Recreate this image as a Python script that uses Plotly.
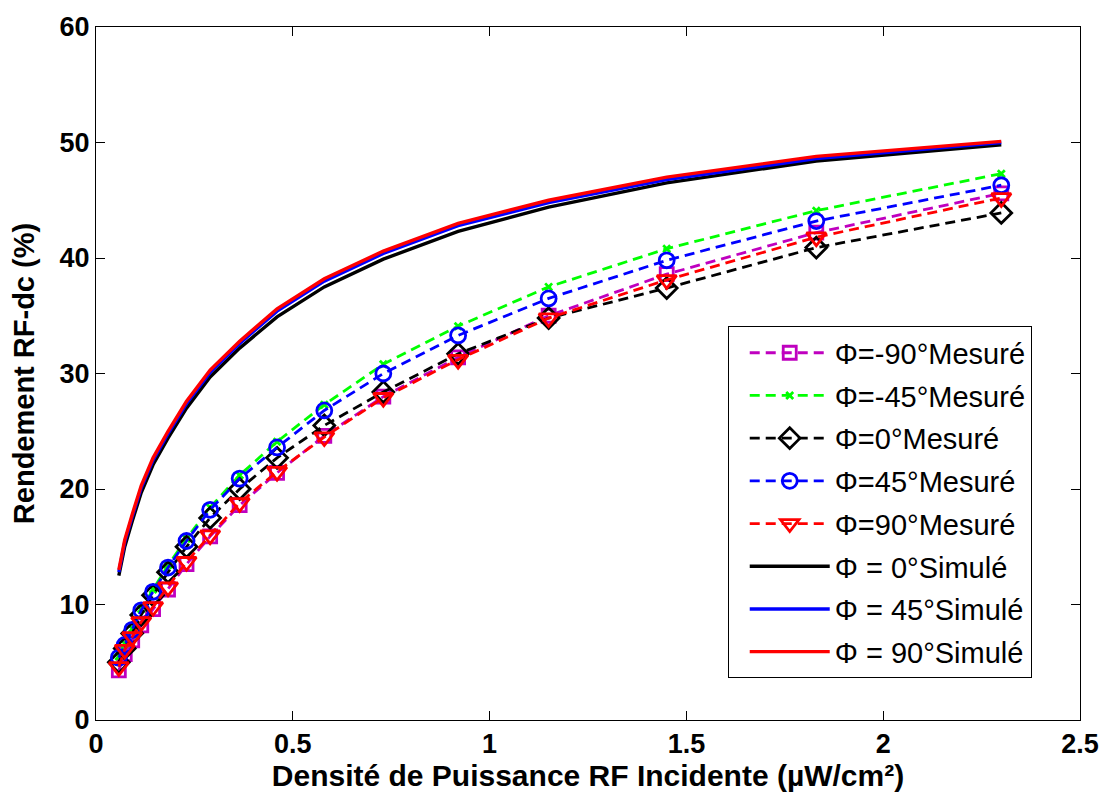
import plotly.graph_objects as go

x_vals = [0.058, 0.073, 0.092, 0.115, 0.145, 0.183, 0.23, 0.29, 0.365, 0.46,
          0.58, 0.73, 0.92, 1.15, 1.45, 1.83, 2.3]

mes_m90 = [4.3, 5.7, 6.9, 8.2, 9.6, 11.3, 13.5, 15.9, 18.6, 21.4, 24.6, 28.0, 31.4, 35.0, 38.6, 42.2, 45.6]
mes_m45 = [5.5, 6.6, 7.9, 9.6, 11.3, 13.4, 15.7, 18.4, 21.2, 24.1, 27.3, 30.8, 34.1, 37.5, 40.8, 44.1, 47.3]
mes_0 = [5.0, 6.2, 7.5, 9.1, 10.8, 12.8, 15.0, 17.5, 20.0, 22.7, 25.5, 28.4, 31.7, 34.8, 37.4, 40.9, 43.9]
mes_45 = [5.4, 6.5, 7.8, 9.5, 11.1, 13.2, 15.5, 18.2, 20.9, 23.6, 26.8, 30.0, 33.3, 36.5, 39.8, 43.2, 46.3]
mes_90 = [4.6, 6.1, 7.2, 8.5, 9.8, 11.5, 13.7, 16.0, 18.8, 21.5, 24.5, 27.9, 31.2, 34.8, 38.1, 41.8, 45.2]

sim_0 = [12.5, 15.0, 17.2, 19.7, 22.1, 24.4, 27.0, 29.7, 32.2, 34.9, 37.5, 39.9, 42.3, 44.4, 46.5, 48.4, 49.8]
sim_45 = [12.8, 15.4, 17.6, 20.1, 22.5, 24.8, 27.4, 30.1, 32.6, 35.4, 38.0, 40.4, 42.8, 44.8, 46.8, 48.6, 50.0]
sim_90 = [13.0, 15.6, 17.8, 20.3, 22.7, 25.0, 27.6, 30.3, 32.8, 35.6, 38.2, 40.6, 43.0, 45.0, 47.0, 48.8, 50.1]

x_ticks = [0, 0.5, 1, 1.5, 2, 2.5]
x_tick_labels = ["0", "0.5", "1", "1.5", "2", "2.5"]
y_ticks = [0, 10, 20, 30, 40, 50, 60]

fig = go.Figure()

measured = [
    ("Φ=-90°Mesuré", mes_m90, "#BF00BF", "square-open", 13),
    ("Φ=-45°Mesuré", mes_m45, "#00FF00", "x-thin-open", 7),
    ("Φ=0°Mesuré", mes_0, "#000000", "diamond-open", 16),
    ("Φ=45°Mesuré", mes_45, "#0000FF", "circle-open", 15),
    ("Φ=90°Mesuré", mes_90, "#FF0000", "triangle-down-open", 17),
]
for i, (name, ys, col, sym, sz) in enumerate(measured):
    fig.add_trace(go.Scatter(
        x=x_vals, y=ys, name=name, mode="lines+markers",
        line=dict(color=col, width=2.8, dash="10px,6px"),
        marker=dict(symbol=sym, size=sz, color=col, line=dict(color=col, width=2.8)),
        legendgroup="g%d" % i,
    ))

simulated = [
    ("Φ = 0°Simulé", sim_0, "#000000"),
    ("Φ = 45°Simulé", sim_45, "#0000FF"),
    ("Φ = 90°Simulé", sim_90, "#FF0000"),
]
for j, (name, ys, col) in enumerate(simulated):
    fig.add_trace(go.Scatter(
        x=x_vals, y=ys, name=name, mode="lines",
        line=dict(color=col, width=3.4),
        legendgroup="s%d" % j,
    ))

fam = "Liberation Sans, Arial"
tick_font = dict(family=fam, size=27, color="black", weight="bold")

fig.update_layout(
    width=1099, height=789,
    paper_bgcolor="white", plot_bgcolor="white",
    margin=dict(l=88, r=27, t=19, b=77),
    font=dict(family=fam, color="black"),
    xaxis=dict(
        range=[0, 2.5], tickvals=x_ticks, ticktext=x_tick_labels,
        ticks="inside", ticklen=9, tickwidth=1, tickcolor="black",
        showline=True, linecolor="black", linewidth=1, mirror="ticks",
        showgrid=False, zeroline=False, tickfont=tick_font, automargin=False,
        title=dict(text="Densité de Puissance RF Incidente (µW/cm²)",
                   font=dict(family=fam, size=30, color="black", weight="bold"),
                   standoff=2),
    ),
    yaxis=dict(
        range=[0, 60], tickvals=y_ticks,
        ticks="inside", ticklen=9, tickwidth=1, tickcolor="black",
        showline=True, linecolor="black", linewidth=1, mirror="ticks",
        showgrid=False, zeroline=False, tickfont=tick_font, automargin=False,
        title=dict(text="Rendement RF-dc (%)",
                   font=dict(family=fam, size=29, color="black", weight="bold"),
                   standoff=16),
    ),
    legend=dict(
        x=0.642, y=0.568, xanchor="left", yanchor="top",
        bgcolor="white", bordercolor="black", borderwidth=1,
        font=dict(family=fam, size=29, color="black"),
        tracegroupgap=2, itemwidth=80, traceorder="grouped",
        indentation=16,
    ),
    showlegend=True,
)

fig.write_html("out.html")
